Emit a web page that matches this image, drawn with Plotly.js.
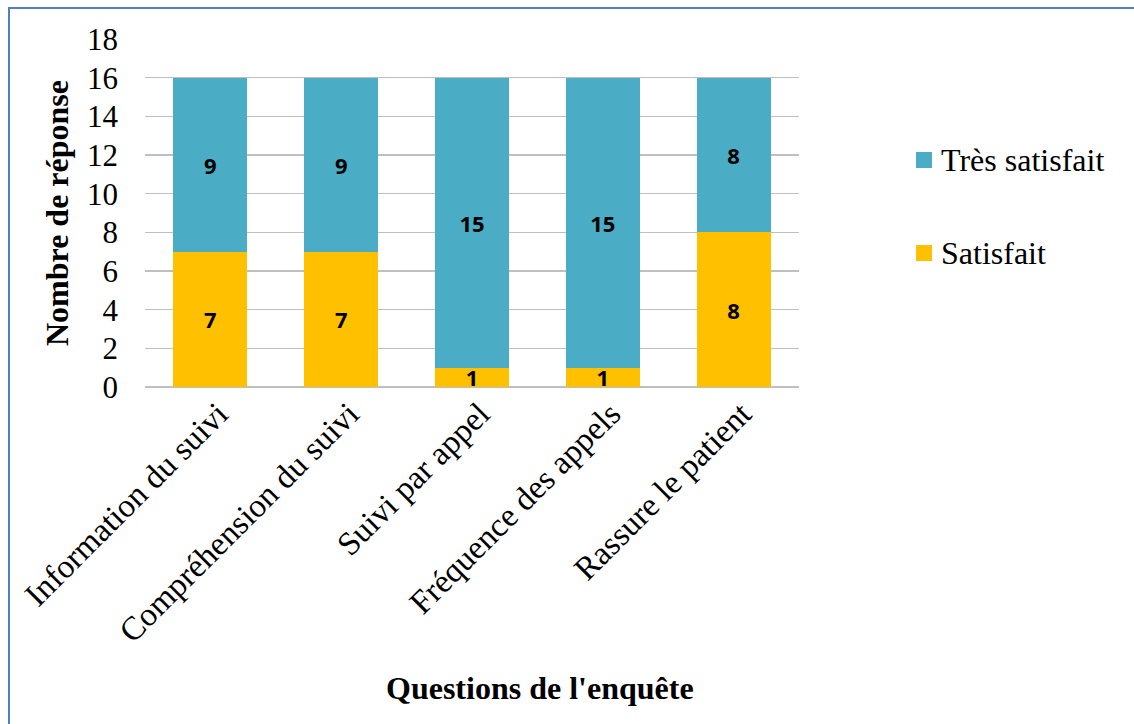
<!DOCTYPE html>
<html>
<head>
<meta charset="utf-8">
<script src="https://cdn.plot.ly/plotly-3.0.1.min.js"></script>
<style>
  html, body { margin: 0; padding: 0; background: #fff; }
  #wrap { position: relative; width: 1134px; height: 724px; }
  #chart { position: absolute; left: 0; top: 0; width: 1134px; height: 724px; }
  #frame {
    position: absolute; left: 8px; top: 7px; right: -10px; bottom: -10px;
    border-top: 2px solid #4F81BD; border-left: 2px solid #4F81BD;
    pointer-events: none;
  }
</style>
</head>
<body>
<div id="wrap">
  <div id="chart"></div>
  <div id="frame"></div>
</div>
<script>
// Survey questions on the x axis
const categories = [
  "Information du suivi",
  "Compréhension du suivi",
  "Suivi par appel",
  "Fréquence des appels",
  "Rassure le patient"
];
// Response counts per satisfaction level
const satisfait = [7, 7, 1, 1, 8];
const tresSatisfait = [9, 9, 15, 15, 8];
const yTicks = [0, 2, 4, 6, 8, 10, 12, 14, 16, 18];
const seriesNames = ["Satisfait", "Très satisfait"];
const seriesColors = ["#FFC000", "#4BACC6"];

const serif = "Liberation Serif, Times New Roman, serif";
const labelFont = { family: "Open Sans", size: 22, color: "#000", weight: 700 };

const common = {
  type: "bar",
  x: categories,
  texttemplate: "<b>%{y}</b>",
  textposition: "inside",
  insidetextanchor: "middle",
  textangle: 0,
  constraintext: "none",
  textfont: labelFont,
  hoverinfo: "x+y+name",
  showlegend: false
};

const traces = [
  Object.assign({}, common, {
    name: seriesNames[0],
    y: satisfait,
    marker: { color: seriesColors[0] }
  }),
  Object.assign({}, common, {
    name: seriesNames[1],
    y: tresSatisfait,
    marker: { color: seriesColors[1] }
  })
];

// Legend drawn by hand (top entry = last stacked series), in paper units
const plotL = 145, plotW = 654, plotB = 387, plotH = 348;
const px = v => (v - plotL) / plotW;
const py = v => (plotB - v) / plotH;
const legendRows = [160, 253];
const legendShapes = [];
const legendNotes = [];
seriesNames.slice().reverse().forEach((name, i) => {
  const cy = legendRows[i];
  const color = seriesColors[seriesNames.length - 1 - i];
  legendShapes.push({
    type: "rect", xref: "paper", yref: "paper",
    x0: px(916), x1: px(932), y0: py(cy + 8), y1: py(cy - 8),
    fillcolor: color, line: { width: 0 }
  });
  legendNotes.push({
    text: '<span style="font-family:Liberation Serif">' + name + '</span>',
    xref: "paper", yref: "paper",
    x: px(939), y: py(cy), xanchor: "left", yanchor: "middle",
    showarrow: false,
    font: { family: serif, size: 32, color: "#000" }
  });
});

const layout = {
  width: 1134,
  height: 724,
  margin: { l: plotL, r: 1134 - plotL - plotW, t: 39, b: 724 - plotB },
  paper_bgcolor: "#fff",
  plot_bgcolor: "#fff",
  barmode: "stack",
  bargap: 0.433,
  showlegend: false,
  font: { family: serif, size: 32, color: "#000" },
  xaxis: {
    tickangle: -45,
    tickfont: { family: serif, size: 33, color: "#000" },
    ticklabelshift: 8,
    showgrid: false,
    showline: false,
    ticks: "",
    zeroline: false
  },
  yaxis: {
    range: [0, 18],
    tickvals: yTicks,
    tickfont: { family: serif, size: 31, color: "#000" },
    ticklabelstandoff: 26,
    showgrid: true,
    gridcolor: "#BFBFBF",
    gridwidth: 1.5,
    zeroline: true,
    zerolinecolor: "#BFBFBF",
    zerolinewidth: 1.5,
    showline: false,
    ticks: "",
    title: {
      text: "<b>Nombre de réponse</b>",
      font: { family: serif, size: 32, color: "#000" },
      standoff: 8
    }
  },
  shapes: legendShapes,
  annotations: legendNotes.concat([{
    text: "<b>Questions de l'enquête</b>",
    xref: "paper", yref: "paper",
    x: px(540), y: py(688),
    xanchor: "center", yanchor: "middle",
    showarrow: false,
    font: { family: serif, size: 32, color: "#000" }
  }])
};

Plotly.newPlot("chart", traces, layout, { displayModeBar: false, staticPlot: true });
</script>
</body>
</html>
